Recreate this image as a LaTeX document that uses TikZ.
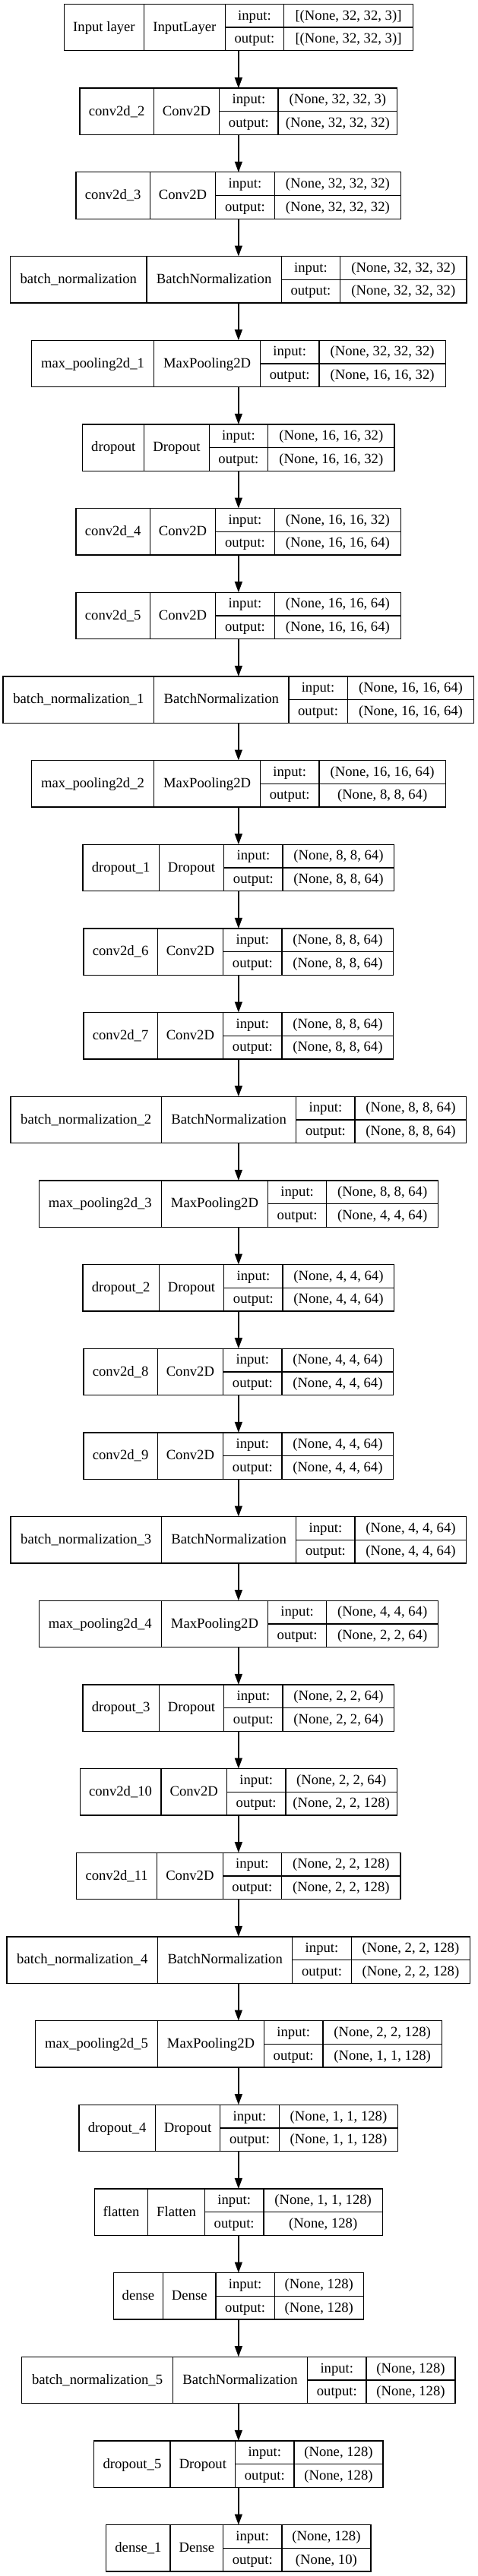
\documentclass[tikz,border=0pt]{standalone}
\usepackage{fontspec}
\setmainfont{Liberation Serif}
\usetikzlibrary{positioning,arrows.meta}

\newcommand\recfont{\fontsize{14pt}{16.8pt}\selectfont}
\newlength\namew
\newlength\clsw
\newlength\portw
\newlength\valw
\newlength\tmpw
\newcommand\padw[3]{\settowidth\tmpw{\normalfont\recfont #3}\global#1=\dimexpr #2\tmpw+16pt\relax}
\newcommand\kerasrec[6]{%
  \pgfinterruptpicture
    \padw\namew{1.03}{#3}\padw\clsw{1.03}{#4}\padw\portw{1.06}{output:}%
    \padw\valw{1.06}{#5}\padw\tmpw{1.06}{#6}%
    \ifdim\tmpw>\valw\global\valw=\tmpw\fi
  \endpgfinterruptpicture
  \node[layer, draw, minimum width=\namew+\clsw+\portw+\valw, #2] (#1) {};
  \node[cell, minimum width=\namew, anchor=north west] (#1n) at (#1.north west) {#3};
  \node[cell, minimum width=\clsw, anchor=north west] (#1c) at (#1n.north east) {#4};
  \node[half, minimum width=\portw, anchor=north west] (#1pi) at (#1c.north east) {input:};
  \node[half, minimum width=\portw, anchor=north west] (#1po) at (#1pi.south west) {output:};
  \node[half, minimum width=\valw, anchor=north west] (#1vi) at (#1pi.north east) {#5};
  \node[half, minimum width=\valw, anchor=north west] (#1vo) at (#1vi.south west) {#6};
  \draw[rule] (#1n.north east) -- (#1n.south east)
              (#1c.north east) -- (#1c.south east)
              (#1pi.north east) -- (#1po.south east)
              (#1pi.south west) -- (#1vi.south east);
}

\begin{document}
\begin{tikzpicture}[node distance=37pt]
  \tikzset{
    layer/.style={line width=1pt, minimum height=46pt, inner sep=0pt, outer sep=0pt},
    cell/.style={layer, font=\recfont, text height=11.5pt, text depth=3.3pt},
    half/.style={cell, minimum height=23pt},
    rule/.style={line width=1pt},
    flow/.style={-{Triangle[length=10.5pt,width=7.5pt]}, line width=1pt}
  }
  \useasboundingbox (0,0) rectangle (471pt,-2544.75pt);
  \kerasrec{l0}{at={(235.39pt,-4.125pt)}, anchor=north}{Input layer}{InputLayer}{[(None, 32, 32, 3)]}{[(None, 32, 32, 3)]}
  \kerasrec{l1}{below=of l0}{conv2d\_2}{Conv2D}{(None, 32, 32, 3)}{(None, 32, 32, 32)}
  \kerasrec{l2}{below=of l1}{conv2d\_3}{Conv2D}{(None, 32, 32, 32)}{(None, 32, 32, 32)}
  \kerasrec{l3}{below=of l2}{batch\_normalization}{BatchNormalization}{(None, 32, 32, 32)}{(None, 32, 32, 32)}
  \kerasrec{l4}{below=of l3}{max\_pooling2d\_1}{MaxPooling2D}{(None, 32, 32, 32)}{(None, 16, 16, 32)}
  \kerasrec{l5}{below=of l4}{dropout}{Dropout}{(None, 16, 16, 32)}{(None, 16, 16, 32)}
  \kerasrec{l6}{below=of l5}{conv2d\_4}{Conv2D}{(None, 16, 16, 32)}{(None, 16, 16, 64)}
  \kerasrec{l7}{below=of l6}{conv2d\_5}{Conv2D}{(None, 16, 16, 64)}{(None, 16, 16, 64)}
  \kerasrec{l8}{below=of l7}{batch\_normalization\_1}{BatchNormalization}{(None, 16, 16, 64)}{(None, 16, 16, 64)}
  \kerasrec{l9}{below=of l8}{max\_pooling2d\_2}{MaxPooling2D}{(None, 16, 16, 64)}{(None, 8, 8, 64)}
  \kerasrec{l10}{below=of l9}{dropout\_1}{Dropout}{(None, 8, 8, 64)}{(None, 8, 8, 64)}
  \kerasrec{l11}{below=of l10}{conv2d\_6}{Conv2D}{(None, 8, 8, 64)}{(None, 8, 8, 64)}
  \kerasrec{l12}{below=of l11}{conv2d\_7}{Conv2D}{(None, 8, 8, 64)}{(None, 8, 8, 64)}
  \kerasrec{l13}{below=of l12}{batch\_normalization\_2}{BatchNormalization}{(None, 8, 8, 64)}{(None, 8, 8, 64)}
  \kerasrec{l14}{below=of l13}{max\_pooling2d\_3}{MaxPooling2D}{(None, 8, 8, 64)}{(None, 4, 4, 64)}
  \kerasrec{l15}{below=of l14}{dropout\_2}{Dropout}{(None, 4, 4, 64)}{(None, 4, 4, 64)}
  \kerasrec{l16}{below=of l15}{conv2d\_8}{Conv2D}{(None, 4, 4, 64)}{(None, 4, 4, 64)}
  \kerasrec{l17}{below=of l16}{conv2d\_9}{Conv2D}{(None, 4, 4, 64)}{(None, 4, 4, 64)}
  \kerasrec{l18}{below=of l17}{batch\_normalization\_3}{BatchNormalization}{(None, 4, 4, 64)}{(None, 4, 4, 64)}
  \kerasrec{l19}{below=of l18}{max\_pooling2d\_4}{MaxPooling2D}{(None, 4, 4, 64)}{(None, 2, 2, 64)}
  \kerasrec{l20}{below=of l19}{dropout\_3}{Dropout}{(None, 2, 2, 64)}{(None, 2, 2, 64)}
  \kerasrec{l21}{below=of l20}{conv2d\_10}{Conv2D}{(None, 2, 2, 64)}{(None, 2, 2, 128)}
  \kerasrec{l22}{below=of l21}{conv2d\_11}{Conv2D}{(None, 2, 2, 128)}{(None, 2, 2, 128)}
  \kerasrec{l23}{below=of l22}{batch\_normalization\_4}{BatchNormalization}{(None, 2, 2, 128)}{(None, 2, 2, 128)}
  \kerasrec{l24}{below=of l23}{max\_pooling2d\_5}{MaxPooling2D}{(None, 2, 2, 128)}{(None, 1, 1, 128)}
  \kerasrec{l25}{below=of l24}{dropout\_4}{Dropout}{(None, 1, 1, 128)}{(None, 1, 1, 128)}
  \kerasrec{l26}{below=of l25}{flatten}{Flatten}{(None, 1, 1, 128)}{(None, 128)}
  \kerasrec{l27}{below=of l26}{dense}{Dense}{(None, 128)}{(None, 128)}
  \kerasrec{l28}{below=of l27}{batch\_normalization\_5}{BatchNormalization}{(None, 128)}{(None, 128)}
  \kerasrec{l29}{below=of l28}{dropout\_5}{Dropout}{(None, 128)}{(None, 128)}
  \kerasrec{l30}{below=of l29}{dense\_1}{Dense}{(None, 128)}{(None, 10)}
  \draw[flow] (l0) -- (l1);
  \draw[flow] (l1) -- (l2);
  \draw[flow] (l2) -- (l3);
  \draw[flow] (l3) -- (l4);
  \draw[flow] (l4) -- (l5);
  \draw[flow] (l5) -- (l6);
  \draw[flow] (l6) -- (l7);
  \draw[flow] (l7) -- (l8);
  \draw[flow] (l8) -- (l9);
  \draw[flow] (l9) -- (l10);
  \draw[flow] (l10) -- (l11);
  \draw[flow] (l11) -- (l12);
  \draw[flow] (l12) -- (l13);
  \draw[flow] (l13) -- (l14);
  \draw[flow] (l14) -- (l15);
  \draw[flow] (l15) -- (l16);
  \draw[flow] (l16) -- (l17);
  \draw[flow] (l17) -- (l18);
  \draw[flow] (l18) -- (l19);
  \draw[flow] (l19) -- (l20);
  \draw[flow] (l20) -- (l21);
  \draw[flow] (l21) -- (l22);
  \draw[flow] (l22) -- (l23);
  \draw[flow] (l23) -- (l24);
  \draw[flow] (l24) -- (l25);
  \draw[flow] (l25) -- (l26);
  \draw[flow] (l26) -- (l27);
  \draw[flow] (l27) -- (l28);
  \draw[flow] (l28) -- (l29);
  \draw[flow] (l29) -- (l30);
\end{tikzpicture}
\end{document}
